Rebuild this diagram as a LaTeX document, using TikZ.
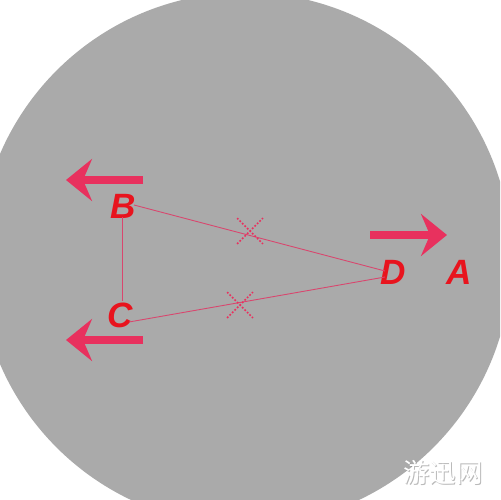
\documentclass[tikz,border=0pt]{standalone}
\usepackage{fontspec}
\setmainfont{Liberation Sans}
\newfontfamily\cjkfont{Noto Sans CJK SC}
\usetikzlibrary{positioning, arrows.meta, shapes.misc}
\definecolor{discgray}{HTML}{AAAAAA}
\definecolor{arrowpink}{HTML}{E8315E}
\definecolor{labelred}{HTML}{E8141E}
\definecolor{edgepink}{HTML}{D9466E}

\begin{document}
\begin{tikzpicture}
    [
        x=0.02cm, y=-0.02cm,
        point_label/.style={text=labelred, font=\fontsize{20}{20}\selectfont\bfseries\itshape, inner sep=0pt},
        move_arrow/.style={draw=arrowpink, line width=0.16cm, -{Stealth[length=0.52cm, width=0.84cm, inset=0.18cm]}},
        edge_line/.style={draw=edgepink, line width=0.5pt},
        cross_mark/.style={cross out, draw=arrowpink, line width=1pt, dash pattern=on 1pt off 1pt, minimum size=0.48cm, inner sep=0pt},
        mark_text/.style={font=\cjkfont\fontsize{15}{15}\selectfont, inner sep=0pt},
    ]
        \useasboundingbox (0,0) rectangle (500,500) ;
        \clip (0,0) rectangle (500,500) ;
        \fill[white] (0,0) rectangle (500,500) ;
        \fill[discgray] (245,259) circle [radius=266.5] ;
        % point labels
        \node[point_label] (B) at (123,206) {B} ;
        \node[point_label] (C) at (120,315) {C} ;
        \node[point_label] (D) at (393,272) {D} ;
        \node[point_label] (A) at (459,272) {A} ;
        % triangle corners
        \coordinate (b_top) at (122,217) ;
        \coordinate (c_top) at (122,301) ;
        \coordinate (b_side) at (134,205) ;
        \coordinate (c_side) at (129,322) ;
        \coordinate (d_up) at (385,271) ;
        \coordinate (d_low) at (385,277) ;
        \draw[edge_line] (b_top) -- (c_top) ;
        \draw[edge_line] (b_side) -- (d_up) ;
        \draw[edge_line] (c_side) -- (d_low) ;
        \node[cross_mark] (m1) at (250,231) {} ;
        \node[cross_mark] (m2) at (240,305) {} ;
        % motion arrows
        \coordinate (top_tail) at (143,180) ;
        \coordinate (top_tip) at (66,180) ;
        \coordinate (low_tail) at (143,340) ;
        \coordinate (low_tip) at (66,340) ;
        \coordinate (right_tail) at (370,235) ;
        \coordinate (right_tip) at (447,235) ;
        \draw[move_arrow] (top_tail) -- (top_tip) ;
        \draw[move_arrow] (low_tail) -- (low_tip) ;
        \draw[move_arrow] (right_tail) -- (right_tip) ;
        % watermark
        \node[mark_text, text=black!45, opacity=0.6] (mark_shadow) at (444,473) {游迅网} ;
        \node[mark_text, text=white] (mark) at (443,472) {游迅网} ;
    \end{tikzpicture}
\end{document}
